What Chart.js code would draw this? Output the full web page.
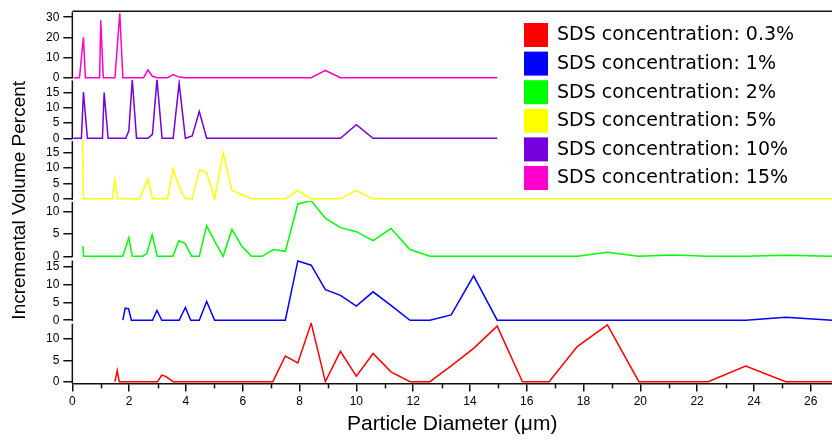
<!DOCTYPE html>
<html>
<head>
<meta charset="utf-8">
<title>Particle size distribution vs SDS concentration</title>
<script src="https://cdn.jsdelivr.net/npm/chart.js@4.4.0/dist/chart.umd.min.js"></script>
<style>
    html, body { margin: 0; padding: 0; background: #fff; }
    #wrap { width: 832px; height: 442px; }
</style>
</head>
<body>
<div id="wrap"><canvas id="sizeChart" width="832" height="442"></canvas></div>
<script>
// Legend labels and colours, lowest concentration first (bottom panel)
const seriesLabels = [
    'SDS concentration: 0.3%',
    'SDS concentration: 1%',
    'SDS concentration: 2%',
    'SDS concentration: 5%',
    'SDS concentration: 10%',
    'SDS concentration: 15%'
];
const seriesColors = ['#ff0000', '#0000ff', '#00ff00', '#ffff00', '#7300dd', '#ff00cc'];

// [diameter um, incremental volume %]
const sds03 = [[1.5,0],[1.58,2.6],[1.65,0],[3.0,0],[3.15,1.55],[3.3,1.2],[3.55,0],[7.06,0],[7.5,6.0],[7.94,4.4],
    [8.41,13.7],[8.91,0],[9.44,7.1],[10.0,1.3],[10.59,6.6],[11.22,2.3],[11.89,0],[12.59,0],[13.34,3.7],[14.13,7.8],
    [14.96,13.0],[15.85,0],[16.79,0],[17.78,8.2],[18.84,13.3],[19.95,0],[22.39,0],[23.71,3.65],[25.12,0],[26.76,0]];
const sds1 = [[1.78,0],[1.86,3.4],[1.98,3.2],[2.08,0],[2.82,0],[2.98,2.75],[3.15,0],[3.76,0],[3.98,3.6],[4.17,0],
    [4.47,0],[4.73,5.3],[5.01,0],[7.5,0],[7.94,16.7],[8.41,15.5],[8.91,8.6],[9.44,7.0],[10.0,4.0],[10.59,8.0],
    [11.22,4.2],[11.89,0],[12.59,0],[13.34,1.5],[14.13,12.5],[14.96,0],[23.71,0],[25.12,0.85],[26.76,0]];
const sds2 = [[0.37,2.3],[0.4,0],[1.78,0],[1.99,4.2],[2.11,0],[2.47,0],[2.62,0.6],[2.81,4.8],[2.99,0],[3.54,0],
    [3.75,3.5],[3.97,2.9],[4.2,0],[4.47,0],[4.73,6.8],[5.01,3.4],[5.31,0],[5.62,6.0],[5.96,2.3],[6.31,0],[6.68,0],
    [7.08,1.5],[7.5,1.1],[7.94,11.7],[8.41,12.4],[8.91,8.5],[9.44,6.4],[10.0,5.5],[10.59,3.5],[11.22,6.2],
    [11.89,1.5],[12.59,0],[17.78,0],[18.84,0.9],[19.95,0],[21.13,0.3],[22.39,0],[23.71,0],[25.12,0.25],[26.76,0]];
const sds5 = [[0.36,19],[0.39,0],[1.41,0],[1.5,6.3],[1.59,0],[2.37,0],[2.66,6.5],[2.82,0],[3.35,0],[3.55,9.8],
    [3.76,3.8],[3.98,0],[4.22,0],[4.47,9.4],[4.73,8.5],[5.01,0],[5.31,15.0],[5.62,2.7],[5.96,1.4],[6.31,0],[7.5,0],
    [7.94,2.7],[8.41,0],[9.44,0],[10.0,2.7],[10.59,0],[26.76,0]];
const sds10 = [[0.04,0],[0.32,0],[0.39,15.2],[0.53,0],[1.06,0],[1.12,15.1],[1.26,0],[1.88,0],[1.99,2.5],[2.11,19.3],
    [2.26,0],[2.66,0],[2.82,1.3],[2.98,19.4],[3.16,0],[3.55,0],[3.76,18.2],[3.98,0],[4.22,0.8],[4.47,8.8],[4.73,0],
    [9.44,0],[10.0,4.5],[10.59,0],[14.96,0]];
const sds15 = [[0.05,0],[0.25,0],[0.39,20],[0.46,0],[0.96,0],[1.0,28.5],[1.09,0],[1.5,0],[1.67,32],[1.78,0],
    [2.51,0],[2.66,3.9],[2.82,0.7],[2.98,0],[3.35,0],[3.55,1.6],[3.76,0.3],[3.98,0],[8.41,0],[8.91,3.6],[9.44,0],
    [14.96,0]];
const seriesValues = [sds03, sds1, sds2, sds5, sds10, sds15];

// tick labels
const xTickValues = [0, 2, 4, 6, 8, 10, 12, 14, 16, 18, 20, 22, 24, 26];
const xMinorTicks = [1, 3, 5, 7, 9, 11, 13, 15, 17, 19, 21, 23, 25];
const panelTicks = [
    [0, 5, 10],
    [0, 5, 10, 15],
    [0, 5, 10],
    [0, 5, 10, 15],
    [0, 5, 10, 15],
    [0, 10, 20, 30]
];

// panel ranges and heights (bottom panel first)
const panelIds = ['yRed', 'yBlue', 'yGreen', 'yYellow', 'yPurple', 'yPink'];
const panelRange = [[-0.4, 13.8], [-0.7, 17.1], [-0.72, 12.4], [-0.65, 19.07], [-0.59, 19.4], [-0.85, 33.0]];
const panelWeight = [60.5, 63, 58.5, 60.5, 60.5, 68];

const FONT = '"Liberation Sans", Arial, Helvetica, sans-serif';
const LEGEND_FONT = '"DejaVu Sans", Verdana, sans-serif';
Chart.defaults.font.family = FONT;
Chart.defaults.color = '#000';

const scales = {
    x: {
        type: 'linear',
        position: 'bottom',
        min: 0,
        max: 26.75,
        afterBuildTicks: (scale) => { scale.ticks = xTickValues.map(v => ({ value: v })); },
        ticks: { font: { size: 12 }, color: '#000', padding: 3, maxRotation: 0, autoSkip: false },
        grid: { drawOnChartArea: false, tickLength: 8, color: '#111', lineWidth: 1.5 },
        border: { display: true, color: '#111', width: 1.5 },
        title: { display: true, text: 'Particle Diameter (μm)', font: { size: 21 }, color: '#000', padding: { top: 0, bottom: 4 } }
    }
};
panelIds.forEach((id, i) => {
    scales[id] = {
        type: 'linear',
        position: 'left',
        stack: 'panels',
        stackWeight: panelWeight[i],
        min: panelRange[i][0],
        max: panelRange[i][1],
        afterBuildTicks: (scale) => { scale.ticks = panelTicks[i].map(v => ({ value: v })); },
        ticks: { font: { size: 12 }, color: '#000', padding: 4, autoSkip: false },
        grid: { drawOnChartArea: false, tickLength: 9, color: '#111', lineWidth: 1.5 },
        border: { display: false }
    };
});

const datasets = seriesValues.map((vals, i) => ({
    label: seriesLabels[i],
    data: vals.map(p => ({ x: p[0], y: p[1] })),
    yAxisID: panelIds[i],
    borderColor: seriesColors[i],
    backgroundColor: seriesColors[i],
    borderWidth: 1.5,
    pointRadius: 0,
    tension: 0,
    fill: false
}));

// axis lines with small breaks between panels, top frame, minor x ticks, titles and legend
const panelDecor = {
    id: 'panelDecor',
    afterDraw(chart) {
        const { ctx, chartArea } = chart;
        const xs = chart.scales.x;
        ctx.save();
        ctx.strokeStyle = '#111';
        ctx.lineWidth = 1.5;
        ctx.beginPath();
        ctx.moveTo(chartArea.left, chartArea.top);
        ctx.lineTo(chartArea.right, chartArea.top);
        ctx.stroke();

        panelIds.forEach((id, i) => {
            const s = chart.scales[id];
            const yBottom = i === 0 ? s.bottom : s.getPixelForValue(0) + 1;
            ctx.beginPath();
            ctx.moveTo(s.right, yBottom);
            ctx.lineTo(s.right, s.top + 1);
            ctx.stroke();
        });

        xMinorTicks.forEach(v => {
            const px = Math.round(xs.getPixelForValue(v)) + 0.5;
            ctx.beginPath();
            ctx.moveTo(px, xs.top);
            ctx.lineTo(px, xs.top + 5);
            ctx.stroke();
        });

        // y title centred on the stack of panels
        ctx.fillStyle = '#000';
        ctx.font = '19px ' + FONT;
        ctx.textAlign = 'center';
        ctx.textBaseline = 'middle';
        ctx.translate(20, (chartArea.top + chartArea.bottom) / 2 + 3);
        ctx.rotate(-Math.PI / 2);
        ctx.fillText('Incremental Volume Percent', 0, 0);
        ctx.setTransform(1, 0, 0, 1, 0, 0);

        // legend
        ctx.font = '19px ' + LEGEND_FONT;
        ctx.textAlign = 'left';
        seriesLabels.forEach((label, i) => {
            const top = 23 + i * 28.6;
            ctx.fillStyle = seriesColors[i];
            ctx.fillRect(524, top, 24, 24);
            ctx.fillStyle = '#000';
            ctx.fillText(label, 557, top + 12.5);
        });
        ctx.restore();
    }
};

new Chart(document.getElementById('sizeChart'), {
    type: 'line',
    data: { datasets: datasets },
    options: {
        responsive: false,
        devicePixelRatio: 1,
        animation: false,
        parsing: true,
        layout: { padding: { left: 42, top: 9, right: 0, bottom: 1 } },
        plugins: { legend: { display: false }, tooltip: { enabled: false } },
        scales: scales
    },
    plugins: [panelDecor]
});
</script>
</body>
</html>
